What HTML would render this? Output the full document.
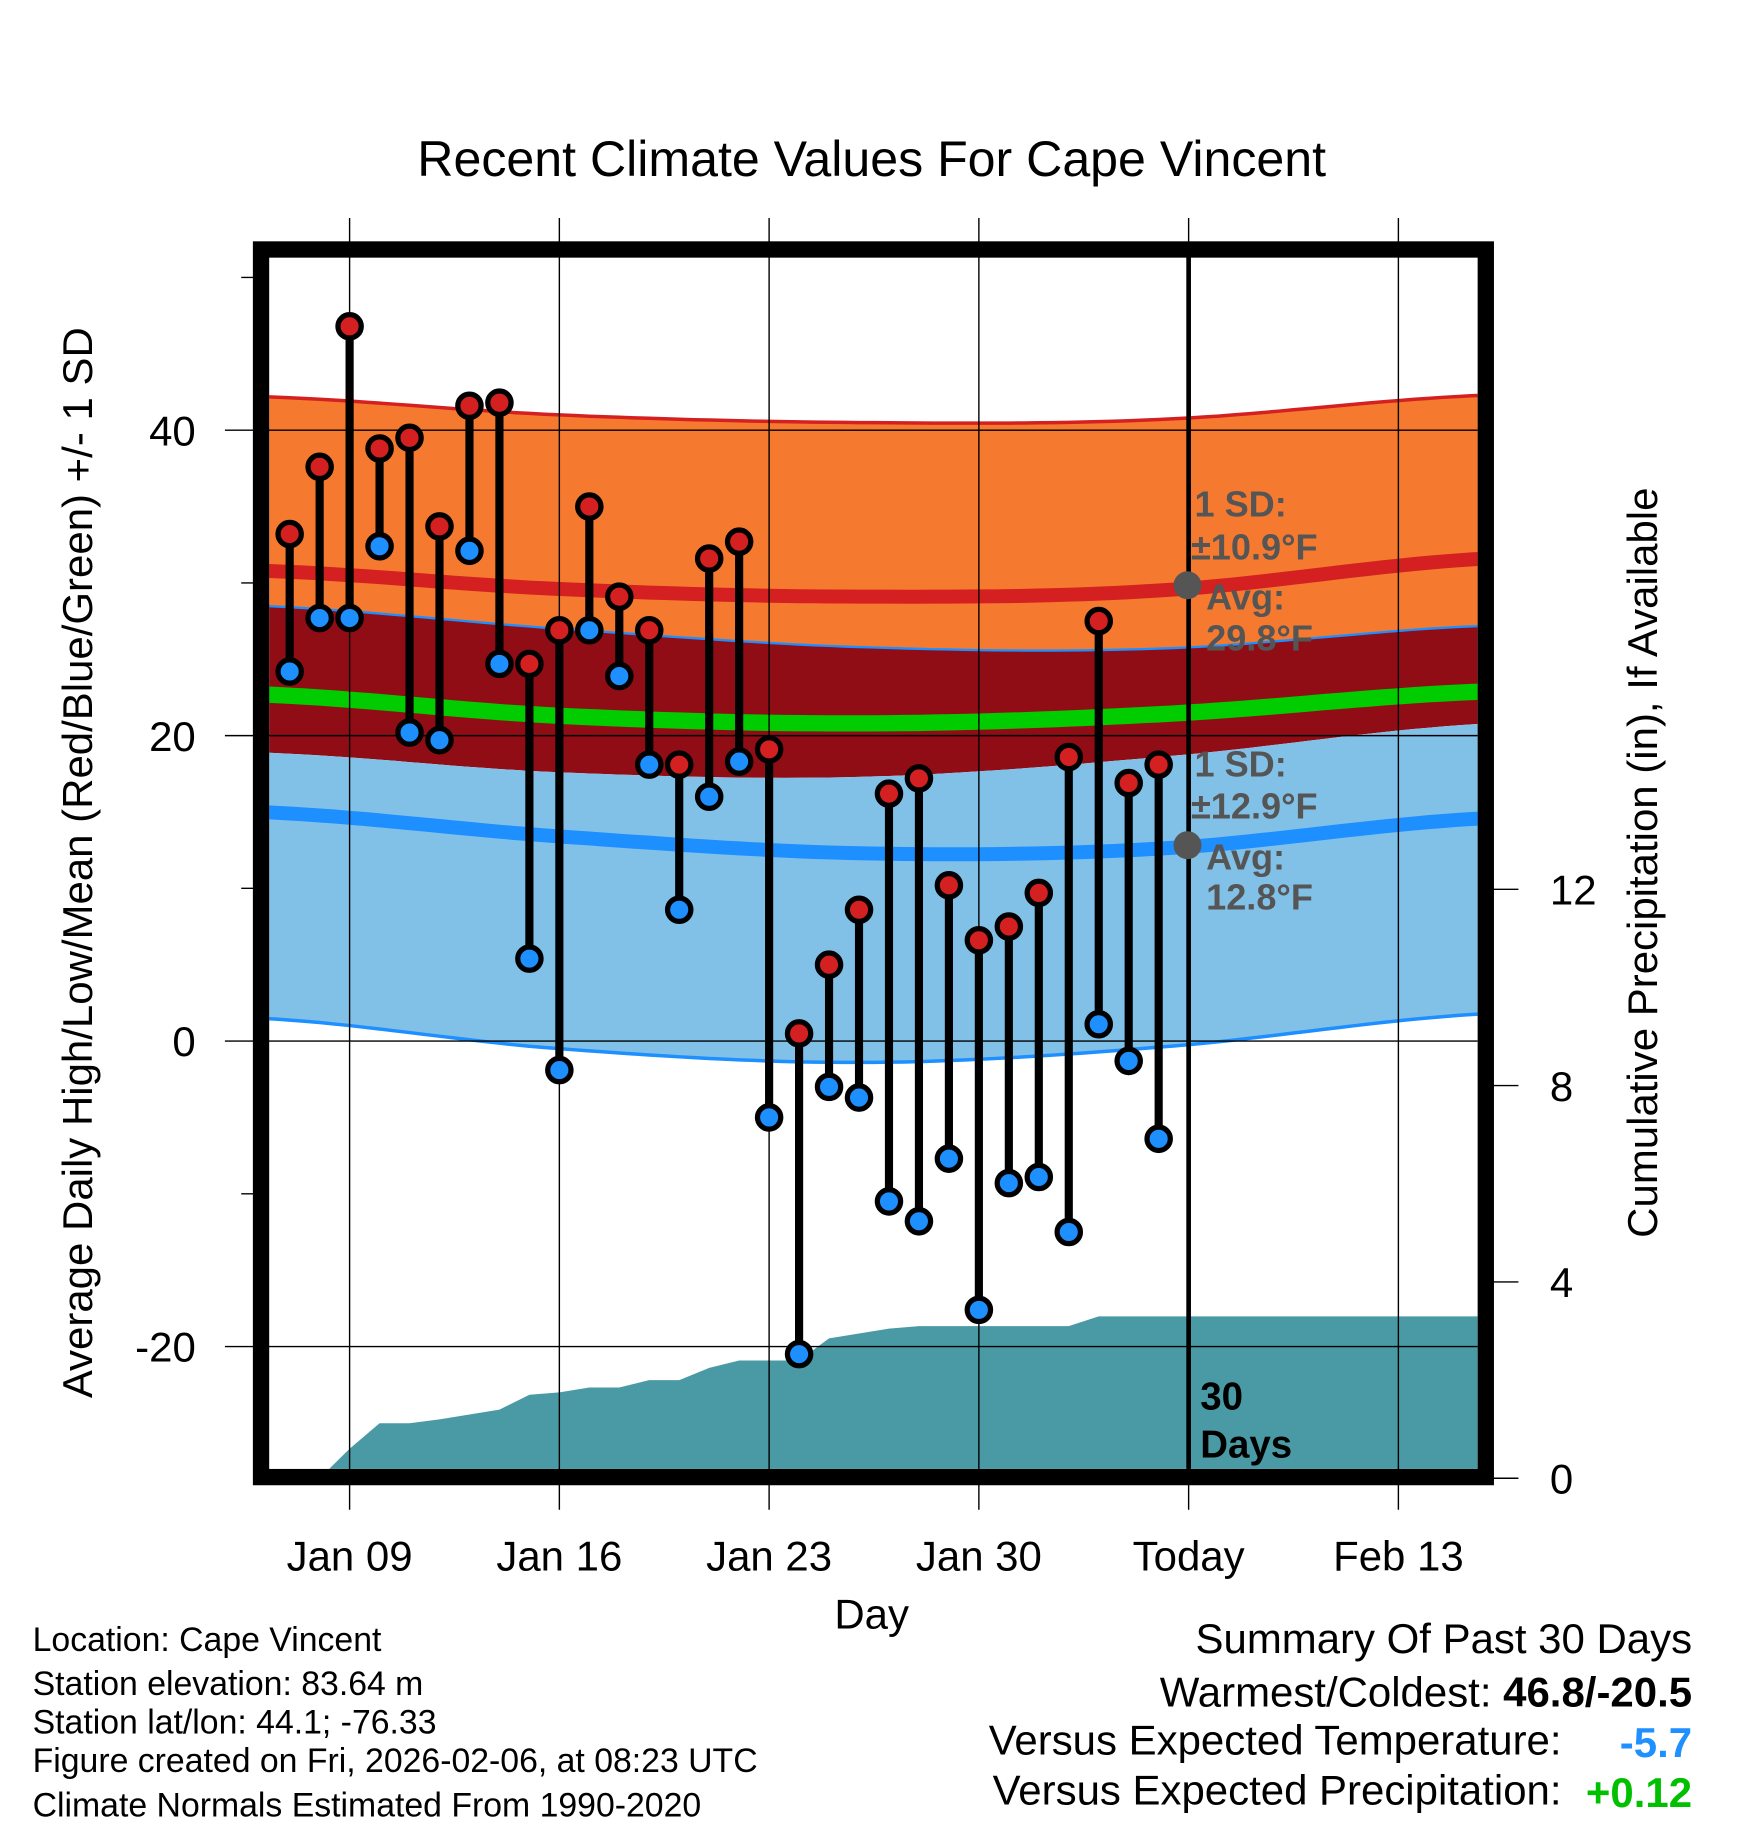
<!DOCTYPE html>
<html><head><meta charset="utf-8">
<style>
html,body{margin:0;padding:0;background:#fff;}
svg{display:block;font-family:"Liberation Sans",Arial,sans-serif;}
</style></head>
<body>
<svg id="chart" width="1748" height="1828" viewBox="0 0 1500 1568" preserveAspectRatio="none" xmlns="http://www.w3.org/2000/svg">
<defs><clipPath id="plotclip"><rect x="231" y="221" width="1037" height="1039"/></clipPath></defs>
<rect x="0" y="0" width="1500" height="1568" fill="#fff"/>
<text x="748" y="151" font-size="43" text-anchor="middle">Recent Climate Values For Cape Vincent</text>
<g id="bands" clip-path="url(#plotclip)"></g>
<g id="grid"></g>
<g id="marks" clip-path="url(#plotclip)"></g>
<g id="axes"></g>
<rect x="224" y="214" width="1051" height="1053" fill="none" stroke="#000" stroke-width="14"/>
<g id="annot">
<text x="1025" y="443" font-size="31" font-weight="bold" fill="#555">1 SD:</text>
<text x="1022" y="480" font-size="31" font-weight="bold" fill="#555">±10.9°F</text>
<circle cx="1019" cy="502" r="12" fill="#555"/>
<text x="1035" y="523" font-size="31" font-weight="bold" fill="#555">Avg:</text>
<text x="1035" y="558" font-size="31" font-weight="bold" fill="#555">29.8°F</text>
<text x="1025" y="666" font-size="31" font-weight="bold" fill="#555">1 SD:</text>
<text x="1022" y="702" font-size="31" font-weight="bold" fill="#555">±12.9°F</text>
<circle cx="1019" cy="725" r="12" fill="#555"/>
<text x="1035" y="746" font-size="31" font-weight="bold" fill="#555">Avg:</text>
<text x="1035" y="780" font-size="31" font-weight="bold" fill="#555">12.8°F</text>
<text x="1030" y="1209" font-size="33" font-weight="bold">30</text>
<text x="1030" y="1250" font-size="33" font-weight="bold">Days</text>
</g>
<text x="748" y="1397" font-size="36" text-anchor="middle">Day</text>
<text transform="translate(79,740) rotate(-90)" font-size="36" text-anchor="middle">Average Daily High/Low/Mean (Red/Blue/Green) +/- 1 SD</text>
<text transform="translate(1422,740) rotate(-90)" font-size="36" text-anchor="middle">Cumulative Precipitation (in), If Available</text>
<g font-size="29">
<text x="28" y="1416">Location: Cape Vincent</text>
<text x="28" y="1454">Station elevation: 83.64 m</text>
<text x="28" y="1487">Station lat/lon: 44.1; -76.33</text>
<text x="28" y="1520">Figure created on Fri, 2026-02-06, at 08:23 UTC</text>
<text x="28" y="1558">Climate Normals Estimated From 1990-2020</text>
</g>
<g font-size="36">
<text x="1452" y="1418" text-anchor="end">Summary Of Past 30 Days</text>
<text x="1452" y="1464" text-anchor="end">Warmest/Coldest: <tspan font-weight="bold">46.8/-20.5</tspan></text>
<text x="1340" y="1505" text-anchor="end">Versus Expected Temperature:</text>
<text x="1452" y="1507" text-anchor="end" font-weight="bold" fill="#1e90ff">-5.7</text>
<text x="1340" y="1548" text-anchor="end">Versus Expected Precipitation:</text>
<text x="1452" y="1550" text-anchor="end" font-weight="bold" fill="#00c000">+0.12</text>
</g>
</svg>
<script>
// ---- data ----
const dayLabels = ["Jan 7","Jan 8","Jan 9","Jan 10","Jan 11","Jan 12","Jan 13","Jan 14","Jan 15","Jan 16","Jan 17","Jan 18","Jan 19","Jan 20","Jan 21","Jan 22","Jan 23","Jan 24","Jan 25","Jan 26","Jan 27","Jan 28","Jan 29","Jan 30","Jan 31","Feb 1","Feb 2","Feb 3","Feb 4","Feb 5"];
const highs = [33.2,37.6,46.8,38.8,39.5,33.7,41.6,41.8,24.7,26.9,35.0,29.1,26.9,18.1,31.6,32.7,19.1,0.5,5.0,8.6,16.2,17.2,10.2,6.6,7.5,9.7,18.6,27.5,16.9,18.1];
const lows = [24.2,27.7,27.7,32.4,20.2,19.7,32.1,24.7,5.4,-1.9,26.9,23.9,18.1,8.6,16.0,18.3,-5.0,-20.5,-3.0,-3.7,-10.5,-11.8,-7.7,-17.6,-9.3,-8.9,-12.5,1.1,-1.3,-6.4];
const precip = [0,0,0.6,1.12,1.12,1.2,1.3,1.4,1.7,1.75,1.85,1.85,2.0,2.0,2.25,2.4,2.4,2.4,2.85,2.95,3.05,3.1,3.1,3.1,3.1,3.1,3.1,3.3,3.3,3.3];
const normDays = [-3,7,17,27,38];
const highUpper = [42.2,41.0,40.5,40.7,42.3];
const highMean = [30.8,29.6,29.1,29.5,31.6];
const highLower = [18.9,17.6,17.3,18.6,20.8];
const meanLine = [22.7,21.3,20.8,21.4,22.9];
const lowUpper = [28.5,27.0,25.8,25.7,27.2];
const lowMean = [15.0,13.4,12.3,12.6,14.6];
const lowLower = [1.5,-0.5,-1.4,-0.4,1.8];
const xTickDays = [0,7,14,21,28,35];
const xTickLabels = ["Jan 09","Jan 16","Jan 23","Jan 30","Today","Feb 13"];
const yTicks = [-20,0,20,40];
const yMinor = [-10,10,30,50];
const y2Ticks = [0,4,8,12];
// ---- axes ----
const X0=231,X1=1268,Y0=221,Y1=1260;
const x = d => 300 + d*25.714;
const y = v => 893 - v*13.1;
const y2 = p => 1268 - p*42.1;
const NS="http://www.w3.org/2000/svg";
function mk(tag,attrs,parent){const e=document.createElementNS(NS,tag);for(const k in attrs)e.setAttribute(k,attrs[k]);parent.appendChild(e);return e;}
const bands=document.getElementById('bands'),grid=document.getElementById('grid'),marks=document.getElementById('marks'),axes=document.getElementById('axes');
function interp(arr,d){
  const n=normDays.length;
  let i=0;
  if(d<=normDays[0]) return arr[0];
  if(d>=normDays[n-1]) return arr[n-1];
  while(i<n-2 && d>normDays[i+1]) i++;
  const t=(d-normDays[i])/(normDays[i+1]-normDays[i]);
  const p0=arr[Math.max(0,i-1)],p1=arr[i],p2=arr[i+1],p3=arr[Math.min(n-1,i+2)];
  const t2=t*t,t3=t2*t;
  return 0.5*((2*p1)+(-p0+p2)*t+(2*p0-5*p1+4*p2-p3)*t2+(-p0+3*p1-3*p2+p3)*t3);
}
const samples=[];for(let d=-3;d<=38.01;d+=0.5)samples.push(d);
function linePts(arr){return samples.map(d=>x(d).toFixed(1)+','+y(interp(arr,d)).toFixed(1));}
function area(top,bot,fill,name){
  const pts=linePts(top).concat(linePts(bot).reverse());
  const p=mk('polygon',{points:pts.join(' '),fill:fill},bands);
  
  
}
area(highUpper,lowUpper,'#f57a30','high-sd-band');
area(lowUpper,highLower,'#900d15','overlap-band');
area(highLower,lowLower,'#82c1e7','low-sd-band');
function line(arr,color,w,name){
  const p=mk('polyline',{points:linePts(arr).join(' '),fill:'none',stroke:color,'stroke-width':w},bands);
  
  
}
line(highUpper,'#d42020',3,'high-upper-line');
line(lowUpper,'#1e8fff',2,'low-upper-line');
line(lowLower,'#1e8fff',3,'low-lower-line');
line(highMean,'#d42020',12,'high-mean-line');
line(meanLine,'#00cc00',14,'mean-line');
line(lowMean,'#1e8fff',12,'low-mean-line');
{
  let pts=[X0+','+y2(0)];
  precip.forEach((p,i)=>pts.push(x(i-2).toFixed(1)+','+y2(p).toFixed(1)));
  pts.push(X1+','+y2(precip[precip.length-1]).toFixed(1));
  pts.push(X1+','+y2(0));
  const a=mk('polygon',{points:pts.join(' '),fill:'#4a9aa5'},bands);
  
  
}
xTickDays.forEach((d,i)=>{
  const today = xTickLabels[i]==="Today";
  const g=mk('line',{x1:x(d),x2:x(d),y1:187,y2:1295,stroke:'#000','stroke-width':1.2},grid);
  
  
  if(today){
    const tl=mk('line',{x1:x(d),x2:x(d),y1:214,y2:1260,stroke:'#000','stroke-width':4},grid);
    
    
  }
  const t=mk('text',{x:x(d),y:1347,'font-size':36,'text-anchor':'middle'},axes);
  t.textContent=xTickLabels[i];
  
  
});
yTicks.forEach(v=>{
  const g=mk('line',{x1:193,x2:X1,y1:y(v),y2:y(v),stroke:'#000','stroke-width':1.2},grid);
  
  
  const t=mk('text',{x:168,y:y(v)+13,'font-size':36,'text-anchor':'end'},axes);
  t.textContent=v;
  
  
});
yMinor.forEach(v=>{
  const g=mk('line',{x1:207,x2:224,y1:y(v),y2:y(v),stroke:'#000','stroke-width':1.2},axes);
  
  
});
y2Ticks.forEach(p=>{
  const g=mk('line',{x1:1275,x2:1303,y1:y2(p),y2:y2(p),stroke:'#000','stroke-width':1.2},axes);
  
  
  const t=mk('text',{x:1330,y:y2(p)+13,'font-size':36,'text-anchor':'start'},axes);
  t.textContent=p;
  
  
});
highs.forEach((h,i)=>{
  const d=i-2, l=lows[i];
  const s=mk('line',{x1:x(d),x2:x(d),y1:y(h),y2:y(l),stroke:'#000','stroke-width':7},marks);
  
  
});
highs.forEach((h,i)=>{
  const d=i-2;
  const c1=mk('circle',{cx:x(d),cy:y(h),r:10,fill:'#d42020',stroke:'#000','stroke-width':4.5},marks);
  
  
  const c2=mk('circle',{cx:x(d),cy:y(lows[i]),r:10,fill:'#1e8fff',stroke:'#000','stroke-width':4.5},marks);
  
  
});
</script>
</body></html>
